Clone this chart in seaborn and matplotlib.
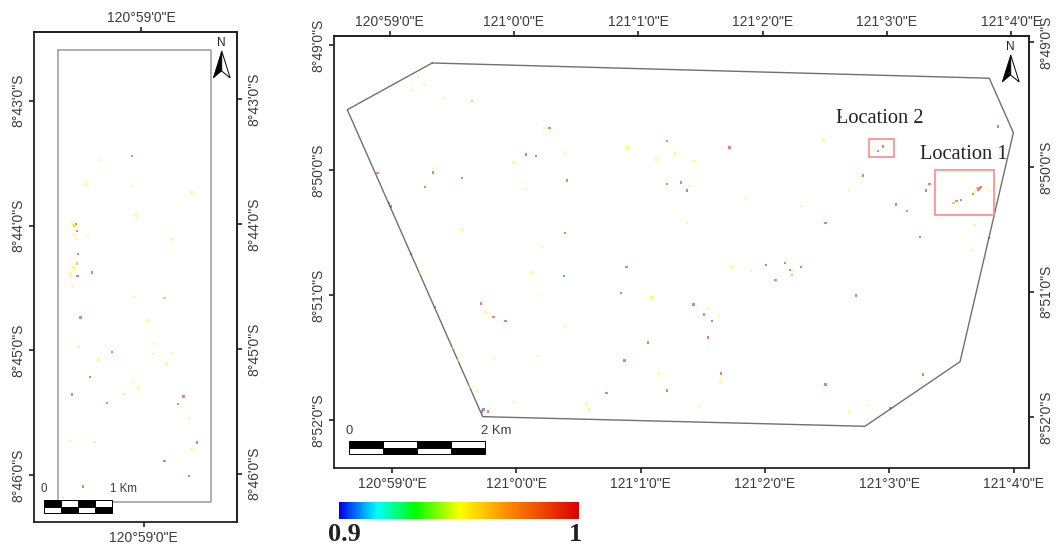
import numpy as np
import pandas as pd
import matplotlib
matplotlib.use("Agg")
import matplotlib.pyplot as plt
from matplotlib.colors import LinearSegmentedColormap, Normalize
from matplotlib.colorbar import ColorbarBase
from matplotlib.patches import Polygon, Rectangle
import seaborn as sns

# longitudes are minutes east of 121d00' (main) or 120d59' (inset), latitudes minutes south of 8d
main_lon = [
    -0.792, -0.738, -0.840, -0.577, -0.357, 0.222, 0.265, 1.212, 0.895, 0.391,
    0.077, 0.158, 1.274, 1.123, -0.022, -0.669, -0.669, -0.435, -1.116, 0.409,
    1.212, 1.324, 1.389, 1.372, -0.733, 0.077, -1.025, -1.009, 1.372, -0.438,
    0.391, 0.208, 0.887, 0.123, 0.383, 0.842, 0.204, 1.088, -0.285, -0.247,
    -0.183, -0.086, 0.391, -0.848, -0.808, -0.776, -0.655, -0.510, -0.467, -0.373,
    -0.319, 1.059, 0.871, -0.178, 0.176, 1.147, 0.726, 1.212, -0.017, 0.570,
    0.586, -0.263, -0.277, -0.228, 2.290, 3.056, 3.142, 2.488, 3.684, 3.249,
    3.804, 3.665, 3.770, 1.732, 1.885, 2.008, 2.163, 2.199, 2.217, 2.217,
    2.290, 2.083, 2.732, 1.426, 1.541, 1.509, 1.630, 1.576, 1.541, 1.648,
    1.640, 1.469, 2.488, 3.271, 2.821, 2.678, 3.011, 2.611, 3.872, 2.469,
    2.947, 2.911, 2.786, 3.322, 3.293, 2.676, 3.899, 3.724, 3.738, 3.703,
    3.716, 3.689, 3.671, 3.802, 3.515, 3.542, 3.528, 3.577, 1.713, 1.426, 1.847,
]
main_lat = [
    49.251, 49.320, 49.358, 49.420, 49.444, 49.664, 49.664, 49.766, 49.820, 49.860,
    49.876, 49.886, 49.865, 49.913, 49.940, 49.982, 50.020, 50.062, 50.025, 50.084,
    50.110, 50.100, 50.126, 50.164, 50.134, 50.153, 50.265, 50.292, 50.423, 50.475,
    50.503, 50.617, 50.773, 50.815, 50.849, 50.983, 51.005, 51.018, 51.066, 51.138,
    51.173, 51.207, 51.253, 50.673, 50.757, 50.825, 51.093, 51.423, 51.522, 51.733,
    51.765, 51.378, 51.522, 51.503, 51.487, 51.629, 51.784, 51.765, 51.861, 51.872,
    51.917, 51.917, 51.933, 51.933, 50.287, 50.276, 50.327, 50.423, 50.439, 50.537,
    50.545, 50.639, 50.692, 50.773, 50.807, 50.761, 50.745, 50.799, 50.799, 50.839,
    50.773, 50.879, 51.002, 51.074, 51.111, 51.154, 51.173, 51.207, 51.341, 51.629,
    51.693, 51.898, 51.717, 51.637, 51.880, 51.933, 51.906, 49.572, 49.652, 49.758,
    49.812, 49.846, 50.044, 50.113, 50.164, 50.164, 50.078, 50.142, 50.137, 50.145,
    50.158, 50.172, 50.193, 50.169, 50.265, 50.247, 50.259, 50.241, 49.820, 49.926, 50.222,
]
main_val = [
    .95, .95, .95, .95, .97, .95, .995, .995, .95, .95,
    .905, .995, .95, .95, .95, .95, .995, .995, .995, .995,
    .995, .995, .95, .905, .995, .95, .995, .905, .95, .95,
    .995, .95, .995, .95, .905, .905, .95, .95, .995, .95,
    .995, .995, .95, .905, .97, .95, .995, .95, .95, .95,
    .95, .995, .995, .95, .95, .95, .995, .995, .95, .95,
    .95, .905, .995, .995, .95, .995, .995, .995, .95, .905,
    .995, .95, .97, .95, .95, .905, .995, .995, .95, .97,
    .905, .995, .995, .995, .95, .995, .95, .905, .995, .995,
    .95, .95, .995, .995, .95, .95, .995, .995, .995, .95,
    .995, .995, .995, .995, .995, .95, .95, .995, .995, .97,
    .995, .95, .995, .95, .97, .995, .95, .905, .995, .95, .95,
]

inset_lon = [
    -0.094, -0.352, -0.470, -0.094, 0.386, -0.062, -0.579, -0.566, -0.571, -0.545,
    -0.545, -0.561, -0.537, -0.558, -0.545, -0.446, 0.228, -0.529, -0.539, -0.566,
    -0.593, -0.593, -0.534, -0.418, -0.577, -0.080, 0.169, -0.510, 0.032, 0.077,
    -0.526, -0.253, 0.077, 0.230, -0.365, 0.182, -0.434, -0.088, -0.046, -0.577,
    -0.156, 0.319, -0.295, 0.278, 0.306, 0.367, -0.593, -0.397, 0.429, 0.386,
    0.169, 0.367, -0.488,
]
inset_lat = [
    43.441, 43.475, 43.670, 43.684, 43.737, 43.921, 43.972, 43.988, 43.998, 43.990,
    44.006, 44.004, 44.044, 44.076, 44.103, 44.090, 44.111, 44.228, 44.303, 44.335,
    44.383, 44.410, 44.405, 44.375, 44.485, 44.575, 44.579, 44.736, 44.757, 44.950,
    44.971, 45.014, 45.030, 45.022, 45.072, 45.104, 45.214, 45.256, 45.297, 45.353,
    45.353, 45.369, 45.420, 45.430, 45.452, 45.545, 45.724, 45.735, 45.740, 45.791,
    45.885, 46.007, 46.090,
]
inset_val = [
    .995, .95, .95, .95, .95, .95, .95, .95, .95, .995,
    .95, .97, .995, .95, .95, .95, .95, .995, .97, .95,
    .95, .95, .995, .995, .95, .95, .97, .995, .95, .95,
    .95, .995, .95, .95, .95, .95, .995, .95, .95, .995,
    .95, .995, .995, .995, .95, .95, .95, .95, .995, .95,
    .995, .995, .995,
]

# study area outline and the two marked locations
area_lon = [-0.677, -1.360, -0.271, 2.804, 3.569, 3.998, 3.804, -0.677]
area_lat = [49.142, 49.516, 51.973, 52.050, 51.533, 49.700, 49.264, 49.142]
loc1_lon, loc1_lat = [3.368, 3.840], [50.001, 50.356]
loc2_lon, loc2_lat = [2.837, 3.038], [49.753, 49.897]
strip_lon, strip_lat = [-0.689, 0.539], [42.596, 46.216]

main_lon_ticks = [-1, 0, 1, 2, 3, 4]
main_lon_labels = ["120°59'0\"E", "121°0'0\"E", "121°1'0\"E", "121°2'0\"E", "121°3'0\"E", "121°4'0\"E"]
main_lat_ticks = [49, 50, 51, 52]
main_lat_labels = ["8°49'0\"S", "8°50'0\"S", "8°51'0\"S", "8°52'0\"S"]
inset_lat_ticks = [43, 44, 45, 46]
inset_lat_labels = ["8°43'0\"S", "8°44'0\"S", "8°45'0\"S", "8°46'0\"S"]

W, H = 1057, 547
GREY = "#3c3c3c"

sns.set_theme(style="white")
plt.rcParams["font.family"] = ["Liberation Sans", "DejaVu Sans"]
plt.rcParams["axes.linewidth"] = 1.3
plt.rcParams["axes.edgecolor"] = "#222222"

cmap = LinearSegmentedColormap.from_list("coh", [
    (0.0, "#0000f0"), (0.157, "#00ffff"), (0.317, "#00ff00"), (0.504, "#ffff00"),
    (0.7, "#ff8c00"), (1.0, "#dc0000"),
])
norm = Normalize(0.9, 1.0)


def box(x0, y0, x1, y1):
    return [x0 / W, 1 - y1 / H, (x1 - x0) / W, (y1 - y0) / H]


def north_arrow(fig, cx, top):
    # N letter with half filled arrow, sizes in pixels
    tip, notch, base, half = top + 7.5, top + 27.5, top + 34.5, 8.5
    to_fig = lambda pts: [(x / W, 1 - y / H) for x, y in pts]
    fig.text(cx / W, 1 - (top + 5.5) / H, "N", ha="center", va="bottom", fontsize=8.5, color="#222222")
    fig.add_artist(Polygon(to_fig([(cx, tip), (cx - half, base), (cx, notch)]), transform=fig.transFigure,
                           fc="black", ec="black", lw=0.5))
    fig.add_artist(Polygon(to_fig([(cx, tip), (cx + half, base), (cx, notch)]), transform=fig.transFigure,
                           fc="white", ec="black", lw=0.7))


def scale_bar(ax, lon0, lon1, lat0, lat1, label, size, gap):
    edges = np.linspace(lon0, lon1, 5)
    mid = (lat0 + lat1) / 2
    for i in range(4):
        top_fc, bot_fc = ("black", "white") if i % 2 == 0 else ("white", "black")
        ax.add_patch(Rectangle((edges[i], lat0), edges[i + 1] - edges[i], mid - lat0, fc=top_fc, ec="black", lw=0.7, zorder=5))
        ax.add_patch(Rectangle((edges[i], mid), edges[i + 1] - edges[i], lat1 - mid, fc=bot_fc, ec="black", lw=0.7, zorder=5))
    ax.text(lon0, lat0 - gap, "0", ha="center", va="bottom", fontsize=size, color=GREY)
    ax.text(lon1 - (lon1 - lon0) * 0.03, lat0 - gap, label, ha="left", va="bottom", fontsize=size, color=GREY)


def dress(ax, xticks, top_shift, xlabels, yticks, right_shift, ylabels):
    tick = dict(length=3.6, width=1.2, color="#222222", labelsize=10, labelcolor=GREY)
    ax.set_xticks(xticks, xlabels)
    ax.set_yticks(yticks, ylabels)
    ax.set_xlabel("")
    ax.set_ylabel("")
    ax.tick_params(axis="x", bottom=True, pad=3, **tick)
    ax.tick_params(axis="y", left=True, pad=2, **tick)
    top = ax.secondary_xaxis("top")
    top.set_xticks(np.array(xticks) + top_shift, xlabels)
    top.tick_params(axis="x", pad=1.5, **tick)
    right = ax.secondary_yaxis("right")
    right.set_yticks(np.array(yticks) + right_shift, ylabels)
    right.tick_params(axis="y", pad=4, **tick)
    for labels in (ax.get_yticklabels(), right.get_yticklabels()):
        for t in labels:
            t.set_rotation(90)
            t.set_va("center")


def spots(ax, lon, lat, val):
    df = pd.DataFrame({"lon": lon, "lat": lat, "val": val})
    sns.scatterplot(data=df, x="lon", y="lat", hue="val", palette=cmap, hue_norm=norm, marker="s",
                    s=3, linewidth=0, alpha=0.55, legend=False, ax=ax, zorder=3)


fig = plt.figure(figsize=(W / 100, H / 100), dpi=100, facecolor="white")

# left strip
ax1 = fig.add_axes(box(33.5, 32.3, 237, 521.7))
ax1.plot([strip_lon[0], strip_lon[1], strip_lon[1], strip_lon[0], strip_lon[0]],
         [strip_lat[0], strip_lat[0], strip_lat[1], strip_lat[1], strip_lat[0]], color="#9a9a9a", lw=1.1, zorder=2)
spots(ax1, inset_lon, inset_lat, inset_val)
ax1.set_xlim(-0.887, 0.751)
ax1.set_ylim(46.373, 42.452)
dress(ax1, [0], -0.022, ["120°59'0\"E"], inset_lat_ticks, -0.011, inset_lat_labels)
scale_bar(ax1, -0.805, -0.255, 46.202, 46.301, "1 Km", 8.3, 0.045)

# main map
ax2 = fig.add_axes(box(333.5, 36, 1029.3, 468))
ax2.plot(area_lon, area_lat, color="#707070", lw=1.0, zorder=2)
spots(ax2, main_lon, main_lat, main_val)
for lons, lats in [(loc1_lon, loc1_lat), (loc2_lon, loc2_lat)]:
    ax2.add_patch(Rectangle((lons[0], lats[0]), lons[1] - lons[0], lats[1] - lats[0],
                            fc="none", ec="#ff8a8a", lw=1.2, zorder=4))
ax2.set_xlim(-1.471, 4.126)
ax2.set_ylim(52.384, 48.926)
dress(ax2, main_lon_ticks, -0.02, main_lon_labels, main_lat_ticks, -0.026, main_lat_labels)
scale_bar(ax2, -1.347, -0.255, 52.168, 52.274, "2 Km", 9.4, 0.03)
ax2.text(2.571, 49.620, "Location 2", family="Liberation Serif", fontsize=14.7, color="#222222", va="baseline")
ax2.text(3.247, 49.913, "Location 1", family="Liberation Serif", fontsize=14.7, color="#222222", va="baseline")

north_arrow(fig, 221.7, 43.5)
north_arrow(fig, 1010.7, 47.5)

# colour scale
cax = fig.add_axes(box(339, 502, 579, 518.7))
cb = ColorbarBase(cax, cmap=cmap, norm=norm, orientation="horizontal")
cb.set_ticks([])
cb.outline.set_visible(False)
fig.text(344 / W, 1 - 541 / H, "0.9", family="Liberation Serif", weight="bold", fontsize=19,
         color="#222222", ha="center", va="baseline")
fig.text(575.5 / W, 1 - 541 / H, "1", family="Liberation Serif", weight="bold", fontsize=19,
         color="#222222", ha="center", va="baseline")

fig.savefig("out.png", dpi=100, facecolor="white")
